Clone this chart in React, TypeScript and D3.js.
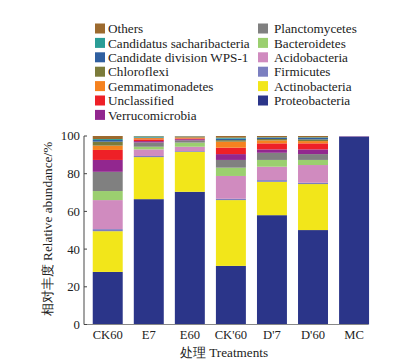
import React from "react";
import * as d3 from "d3";

const categories = ["CK60", "E7", "E60", "CK'60", "D'7", "D'60", "MC"];

// bottom-to-top stacking order
const seriesNames = [
  "Proteobacteria",
  "Actinobacteria",
  "Firmicutes",
  "Acidobacteria",
  "Bacteroidetes",
  "Planctomycetes",
  "Verrucomicrobia",
  "Unclassified",
  "Gemmatimonadetes",
  "Chloroflexi",
  "Candidate division WPS-1",
  "Candidatus sacharibacteria",
  "Others",
];

const proteobacteria = [27.9, 66.5, 70.4, 31.1, 58.0, 50.1, 99.8];
const actinobacteria = [21.6, 22.3, 21.2, 34.9, 17.7, 24.4, 0];
const firmicutes = [1.1, 0.6, 0.4, 0.7, 0.9, 0.7, 0];
const acidobacteria = [15.4, 3.5, 2.3, 12.1, 7.1, 9.4, 0.2];
const bacteroidetes = [4.8, 1.4, 2.2, 4.4, 3.6, 2.7, 0];
const planctomycetes = [10.2, 2.3, 1.2, 4.1, 3.8, 3.1, 0];
const verrucomicrobia = [6.3, 0.7, 0.6, 3.1, 1.8, 2.5, 0];
const unclassified = [5.3, 0.9, 0.4, 3.4, 3.2, 3.2, 0];
const gemmatimonadetes = [2.3, 0.7, 0.5, 3.2, 1.6, 1.2, 0];
const chloroflexi = [2.1, 0.1, 0.4, 0.8, 0.7, 0.9, 0];
const wps1 = [0.9, 0.2, 0.1, 0.8, 0.6, 0.8, 0];
const candidatus = [0.5, 0.6, 0.1, 0.5, 0.3, 0.3, 0];
const others = [1.6, 0.2, 0.2, 0.9, 0.7, 0.7, 0];

const seriesValues = [
  proteobacteria,
  actinobacteria,
  firmicutes,
  acidobacteria,
  bacteroidetes,
  planctomycetes,
  verrucomicrobia,
  unclassified,
  gemmatimonadetes,
  chloroflexi,
  wps1,
  candidatus,
  others,
];

const colors: Record<string, string> = {
  Others: "#9c6a2e",
  "Candidatus sacharibacteria": "#2a9d96",
  "Candidate division WPS-1": "#2f5fa0",
  Chloroflexi: "#7b7b3a",
  Gemmatimonadetes: "#f5821f",
  Unclassified: "#ee2027",
  Verrucomicrobia: "#92278f",
  Planctomycetes: "#808080",
  Bacteroidetes: "#9bcf6f",
  Acidobacteria: "#d08bbf",
  Firmicutes: "#7b7fc0",
  Actinobacteria: "#f2e61a",
  Proteobacteria: "#2b3589",
};

const legendCol1 = [
  "Others",
  "Candidatus sacharibacteria",
  "Candidate division WPS-1",
  "Chloroflexi",
  "Gemmatimonadetes",
  "Unclassified",
  "Verrucomicrobia",
];
const legendCol2 = [
  "Planctomycetes",
  "Bacteroidetes",
  "Acidobacteria",
  "Firmicutes",
  "Actinobacteria",
  "Proteobacteria",
];

const yTicks = [0, 20, 40, 60, 80, 100];

const FONT = '"Liberation Serif", "DejaVu Serif", serif';

export default function App() {
  const W = 405;
  const H = 361;
  const axisX = 84;
  const y = d3.scaleLinear().domain([0, 100]).range([324.5, 136]);
  const x = d3
    .scaleBand<string>()
    .domain(categories)
    .range([87.2, 374.6])
    .paddingInner(0.27)
    .paddingOuter(0.135);

  const table = categories.map((c, i) => {
    const row: Record<string, number | string> = { cat: c };
    seriesNames.forEach((s, k) => (row[s] = seriesValues[k][i]));
    return row;
  });
  const stacked = d3.stack<Record<string, number | string>>().keys(seriesNames)(table as any);

  const txt = { fontFamily: FONT } as React.CSSProperties;

  return (
    <svg
      width={W}
      height={H}
      style={{ position: "absolute", left: 0, top: 0, background: "#fff", fontFamily: FONT }}
    >
      {/* bars */}
      {stacked.map((layer) => (
        <g key={layer.key} fill={colors[layer.key]}>
          {layer.map((d, i) => {
            const h = y(d[0]) - y(d[1]);
            if (h <= 0) return null;
            return (
              <rect
                key={i}
                x={x(categories[i])}
                y={y(d[1])}
                width={x.bandwidth()}
                height={h}
              />
            );
          })}
        </g>
      ))}

      {/* axes */}
      <line x1={axisX} x2={axisX} y1={y(100)} y2={y(0)} stroke="#666" strokeWidth={1.2} />
      <line x1={axisX} x2={368} y1={y(0)} y2={y(0)} stroke="#888" strokeWidth={1.2} />
      {yTicks.map((t) => (
        <g key={t}>
          <line x1={axisX} x2={axisX + 3} y1={y(t)} y2={y(t)} stroke="#444" strokeWidth={1} />
          <text
            x={axisX - 4}
            y={y(t)}
            dy="0.35em"
            textAnchor="end"
            fontSize={12.8}
            fill="#222"
            style={txt}
          >
            {t}
          </text>
        </g>
      ))}
      {categories.map((c) => (
        <text
          key={c}
          x={(x(c) as number) + x.bandwidth() / 2}
          y={339}
          textAnchor="middle"
          fontSize={12.6}
          fill="#222"
          style={txt}
        >
          {c}
        </text>
      ))}
      <text x={224} y={357} textAnchor="middle" fontSize={13.2} fill="#222" style={txt}>
        处理 Treatments
      </text>
      <text
        transform={`translate(52,229) rotate(-90)`}
        textAnchor="middle"
        fontSize={13.3}
        fill="#222"
        style={txt}
      >
        相对丰度 Relative abundance/%
      </text>

      {/* legend */}
      {legendCol1.map((s, i) => (
        <g key={s} transform={`translate(95,${23.5 + i * 14.4})`}>
          <rect width={10} height={10} fill={colors[s]} />
          <text x={13} y={5} dy="0.35em" fontSize={13.2} fill="#222" style={txt}>
            {s}
          </text>
        </g>
      ))}
      {legendCol2.map((s, i) => (
        <g key={s} transform={`translate(258,${23.5 + i * 14.4})`}>
          <rect width={10} height={10} fill={colors[s]} />
          <text x={16} y={5} dy="0.35em" fontSize={13.2} fill="#222" style={txt}>
            {s}
          </text>
        </g>
      ))}
    </svg>
  );
}
